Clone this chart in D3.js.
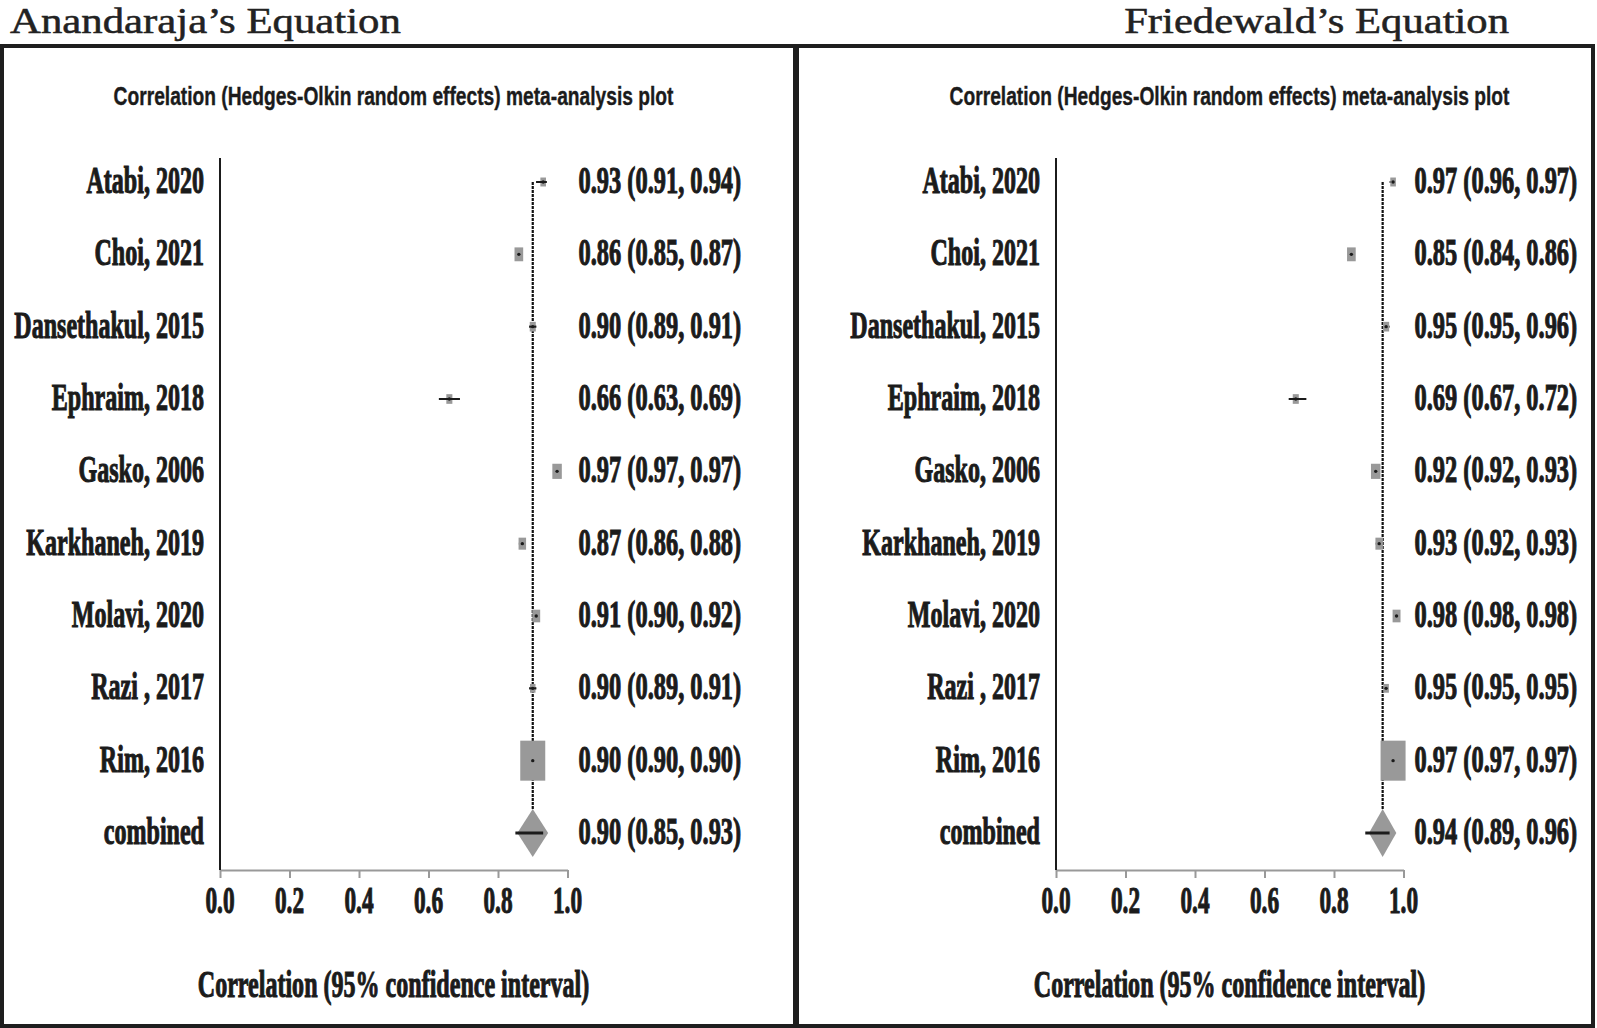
<!DOCTYPE html>
<html>
<head>
<meta charset="utf-8">
<script src="https://cdn.jsdelivr.net/npm/d3@7"></script>
<style>
  html, body { margin: 0; padding: 0; background: #fff; }
  svg { display: block; }
</style>
</head>
<body>
<svg id="chart" width="1597" height="1028"></svg>
<script>
// ---------------- DATA ----------------
const studies = ["Atabi, 2020", "Choi, 2021", "Dansethakul, 2015", "Ephraim, 2018", "Gasko, 2006",
                 "Karkhaneh, 2019", "Molavi, 2020", "Razi , 2017", "Rim, 2016"];
const pooledLabel = "combined";
// relative study weights
const studyWeights = [3.0, 7.2, 3.5, 3.5, 8.6, 5.4, 6.0, 2.9, 59.9];

const panelTitles = ["Anandaraja\u2019s Equation", "Friedewald\u2019s Equation"];
const subtitleText = "Correlation (Hedges-Olkin random effects) meta-analysis plot";
const xAxisTitle = "Correlation (95% confidence interval)";
const xTicks = [0.0, 0.2, 0.4, 0.6, 0.8, 1.0];

const anandEst = [0.93, 0.86, 0.90, 0.66, 0.97, 0.87, 0.91, 0.90, 0.90];
const anandLo  = [0.91, 0.85, 0.89, 0.63, 0.97, 0.86, 0.90, 0.89, 0.90];
const anandHi  = [0.94, 0.87, 0.91, 0.69, 0.97, 0.88, 0.92, 0.91, 0.90];
const anandPooled = [0.90, 0.85, 0.93];

const friedEst = [0.97, 0.85, 0.95, 0.69, 0.92, 0.93, 0.98, 0.95, 0.97];
const friedLo  = [0.96, 0.84, 0.95, 0.67, 0.92, 0.92, 0.98, 0.95, 0.97];
const friedHi  = [0.97, 0.86, 0.96, 0.72, 0.93, 0.93, 0.98, 0.95, 0.97];
const friedPooled = [0.94, 0.89, 0.96];

// ---------------- LAYOUT ----------------
const svg = d3.select("#chart");
const serif = "'Liberation Serif','Times New Roman',Times,serif";
const sans = "'Liberation Sans',Arial,sans-serif";
const ink = "#1b1b1b";
const boxGray = "#999999";

const panels = [
  { title: panelTitles[0], est: anandEst, lo: anandLo, hi: anandHi, pooled: anandPooled,
    dx: 0, border: [2, 46, 793, 980], titleX: 10, titleAnchor: "start", titleLen: 391 },
  { title: panelTitles[1], est: friedEst, lo: friedLo, hi: friedHi, pooled: friedPooled,
    dx: 836, border: [797, 46, 796, 980], titleX: 1509, titleAnchor: "end", titleLen: 385 }
];

const rows = studies.concat([pooledLabel]);
const y = d3.scalePoint().domain(rows).range([182, 833]);
const boxW = d3.scaleSqrt().domain([0, d3.max(studyWeights)]).range([0, 25]);
const f2 = d3.format(".2f");
const f1 = d3.format(".1f");

function sText(g, x, yy, txt, opts) {
  return g.append("text")
    .attr("transform", `translate(${x},${yy}) scale(${opts.sx || 1},1)`)
    .attr("text-anchor", opts.anchor || "start")
    .attr("font-family", opts.family || serif)
    .attr("font-weight", opts.weight || "bold")
    .attr("font-size", opts.size || 37)
    .attr("fill", ink)
    .attr("stroke", ink)
    .attr("stroke-width", opts.sw === undefined ? 1.1 : opts.sw)
    .text(txt);
}
// fit a text to a target width by horizontal scaling
function fitText(sel, x, yy, targetW) {
  const w = sel.node().getComputedTextLength();
  sel.attr("transform", `translate(${x},${yy}) scale(${targetW / w},1)`);
  return sel;
}

panels.forEach(p => {
  // border
  svg.append("rect")
    .attr("x", p.border[0]).attr("y", p.border[1])
    .attr("width", p.border[2]).attr("height", p.border[3])
    .attr("fill", "none").attr("stroke", "#1e1e1e").attr("stroke-width", 4);

  // big title
  const t = sText(svg, 0, 0, p.title, { anchor: p.titleAnchor, weight: "normal", size: 36, sw: 0.5 })
    .attr("fill", "#222").attr("stroke", "#222");
  fitText(t, p.titleX, 33, p.titleLen);

  const g = svg.append("g").attr("transform", `translate(${p.dx},0)`);
  const x = d3.scaleLinear().domain([0, 1]).range([220, 567.5]);

  // subtitle
  const st = sText(g, 0, 0, subtitleText, { anchor: "middle", family: sans, size: 26, sw: 0.4 });
  fitText(st, 393.5, 105, 560);

  // x axis (gray)
  const axis = g.append("g").attr("transform", "translate(0,870)")
    .call(d3.axisBottom(x).tickValues(xTicks).tickSize(8).tickSizeOuter(0).tickFormat(""));
  axis.select(".domain").attr("stroke", "#999").attr("stroke-width", 2);
  axis.selectAll(".tick line").attr("stroke", "#999").attr("stroke-width", 2);
  xTicks.forEach(t => sText(g, x(t), 913, f1(t), { anchor: "middle", sx: 0.63 }));

  // vertical axis line
  g.append("line")
    .attr("x1", x(0)).attr("x2", x(0)).attr("y1", 158).attr("y2", 870)
    .attr("stroke", ink).attr("stroke-width", 2);

  // dashed pooled line
  const pEst = p.pooled[0], pLo = p.pooled[1], pHi = p.pooled[2];
  const dh = 24;
  g.append("line")
    .attr("x1", x(pEst)).attr("x2", x(pEst))
    .attr("y1", y(studies[0])).attr("y2", y(pooledLabel) - dh)
    .attr("stroke", "#111").attr("stroke-width", 2.2).attr("stroke-dasharray", "3,1");

  // study markers
  studies.forEach((s, i) => {
    const cy = y(s);
    const w = boxW(studyWeights[i]);
    const h = w * 1.6;
    g.append("line")
      .attr("x1", x(p.lo[i])).attr("x2", x(p.hi[i])).attr("y1", cy).attr("y2", cy)
      .attr("stroke", ink).attr("stroke-width", 2);
    g.append("rect")
      .attr("x", x(p.est[i]) - w / 2).attr("y", cy - h / 2)
      .attr("width", w).attr("height", h)
      .attr("fill", boxGray);
    if (x(p.hi[i]) - x(p.lo[i]) > w) {
      g.append("line")
        .attr("x1", x(p.lo[i])).attr("x2", x(p.hi[i])).attr("y1", cy).attr("y2", cy)
        .attr("stroke", ink).attr("stroke-width", 2);
    }
    g.append("circle")
      .attr("cx", x(p.est[i])).attr("cy", cy).attr("r", 1.7).attr("fill", ink);

    sText(g, 204, cy + 11, s, { anchor: "end", sx: 0.65 });
    sText(g, 578.5, cy + 11, `${f2(p.est[i])} (${f2(p.lo[i])}, ${f2(p.hi[i])})`, { sx: 0.66 });
  });

  // pooled diamond
  const cy = y(pooledLabel);
  const hw = (x(pHi) - x(pLo)) / 2 + 1.5;
  const cx = x(pEst);
  g.append("path")
    .attr("d", d3.line()([[cx - hw, cy], [cx, cy - dh], [cx + hw, cy], [cx, cy + dh]]) + "Z")
    .attr("fill", boxGray);
  g.append("line")
    .attr("x1", x(pLo)).attr("x2", x(pHi)).attr("y1", cy).attr("y2", cy)
    .attr("stroke", ink).attr("stroke-width", 3);
  sText(g, 204, cy + 11, pooledLabel, { anchor: "end", sx: 0.65 });
  sText(g, 578.5, cy + 11, `${f2(pEst)} (${f2(pLo)}, ${f2(pHi)})`, { sx: 0.66 });

  // x-axis title
  sText(g, 393.5, 997, xAxisTitle, { anchor: "middle", sx: 0.65 });
});
</script>
</body>
</html>
